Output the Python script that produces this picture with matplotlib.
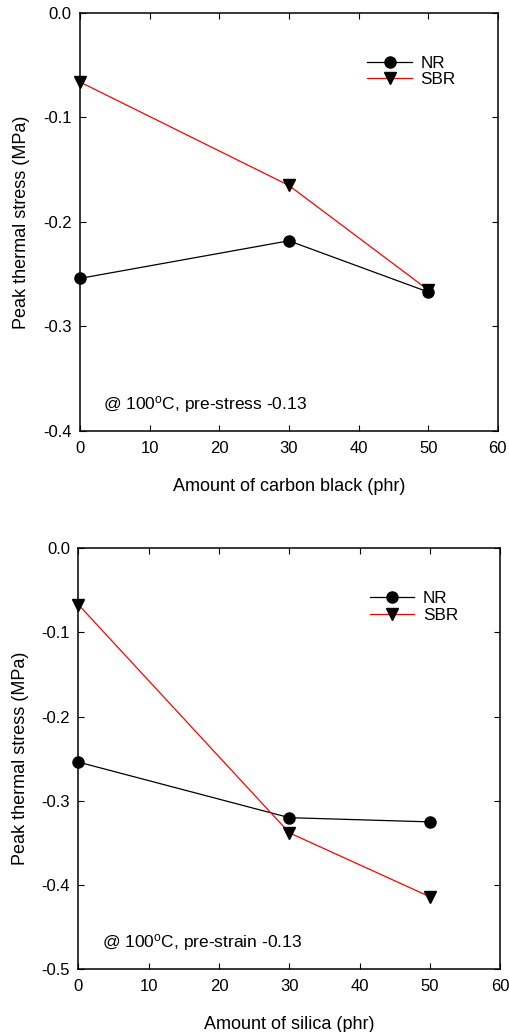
import matplotlib.pyplot as plt
import numpy as np

plt.rcParams.update({'font.family': ['Liberation Sans', 'DejaVu Sans'],
                     'font.size': 12,
                     'axes.linewidth': 1.1,
                     'xtick.direction': 'in',
                     'ytick.direction': 'in',
                     'xtick.top': True,
                     'ytick.right': True,
                     'xtick.major.size': 4.5,
                     'ytick.major.size': 4.5,
                     'legend.frameon': False})

# data
phr = [0, 30, 50]
nr_carbon = [-0.254, -0.218, -0.267]
sbr_carbon = [-0.066, -0.165, -0.265]
nr_silica = [-0.254, -0.320, -0.325]
sbr_silica = [-0.067, -0.338, -0.414]

fig = plt.figure(figsize=(5.09, 10.32), dpi=100)
ax1 = fig.add_axes([0.157, 0.5824, 0.821, 0.405])
ax2 = fig.add_axes([0.154, 0.0608, 0.829, 0.408])


def fmt(v, pos):
    return '%.1f' % (round(v, 1) + 0.0)


def draw_panel(ax, nr, sbr, ymin, xlabel, note):
    ax.plot(phr, nr, '-o', color='black', lw=0.9, markersize=8,
            label='NR', clip_on=False, zorder=3)
    ax.plot(phr, sbr, '-v', color='red', lw=0.9, markersize=8,
            mfc='black', mec='black', label='SBR', clip_on=False, zorder=3)
    ax.set_xlim(0, 60)
    ax.set_ylim(ymin, 0)
    ax.set_xticks(np.arange(0, 61, 10))
    ax.set_yticks(np.round(np.arange(ymin, 0.001, 0.1), 1))
    ax.yaxis.set_major_formatter(plt.FuncFormatter(fmt))
    ax.tick_params(axis='x', pad=7)
    ax.tick_params(axis='y', pad=6)
    ax.set_xlabel(xlabel, fontsize=13, labelpad=16)
    ax.set_ylabel('Peak thermal stress (MPa)', fontsize=13, labelpad=9)
    ax.text(0.055, 0.063, note, transform=ax.transAxes, fontsize=12.5,
            va='center')
    ax.legend(loc='upper right', bbox_to_anchor=(0.936, 0.935),
              handlelength=2.6, handletextpad=0.5, labelspacing=0.1,
              fontsize=12.3)


draw_panel(ax1, nr_carbon, sbr_carbon, -0.4,
           'Amount of carbon black (phr)',
           r'@ 100$\mathregular{^oC}$, pre-stress -0.13')
draw_panel(ax2, nr_silica, sbr_silica, -0.5,
           'Amount of silica (phr)',
           r'@ 100$\mathregular{^oC}$, pre-strain -0.13')

plt.savefig('out.png', dpi=100)
